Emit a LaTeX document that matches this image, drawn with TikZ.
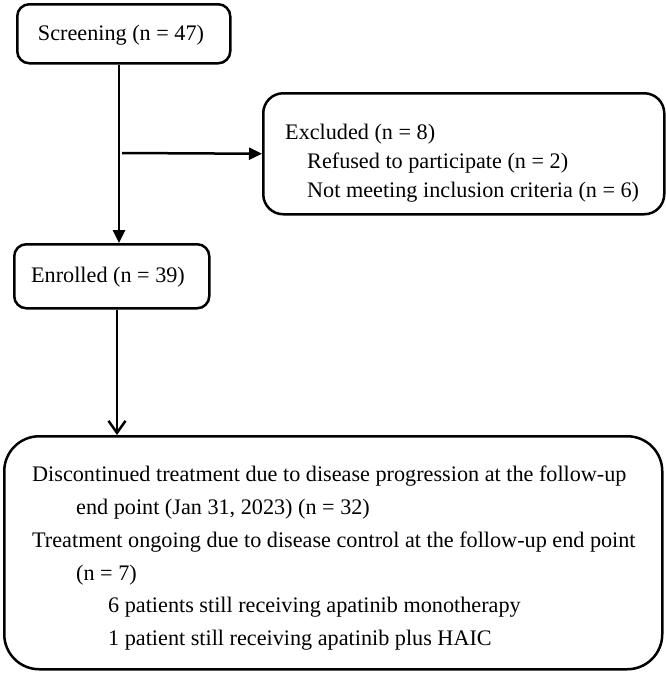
\documentclass[tikz,border=0pt]{standalone}
\usepackage{fontspec}
\setmainfont{Liberation Serif}
\usetikzlibrary{arrows.meta,calc}
\begin{document}
\begin{tikzpicture}[x=1pt,y=-1pt,
  font=\fontsize{22.2}{26}\selectfont,
  box/.style={draw, line width=2.5pt, rounded corners=#1, anchor=north west, inner sep=0pt},
  txt/.style={anchor=base west, inner sep=0pt},
  ctxt/.style={anchor=base, inner sep=0pt},
  link/.style={line width=2.5pt},
  solidtip/.style={-{Triangle[length=13pt,width=12pt]}},
  opentip/.style={-{Straight Barb[length=12pt,width=17pt]}}]
\useasboundingbox[fill=white] (0,0) rectangle (666,673);

% boxes
\node[box=12pt, minimum width=213pt, minimum height=59pt] (scr) at (16,3) {};
\node[box=20pt, minimum width=401pt, minimum height=121pt] (exc) at (262,92) {};
\node[box=12pt, minimum width=195pt, minimum height=64pt] (enr) at (13,243) {};
\node[box=35pt, minimum width=658pt, minimum height=233pt] (bot) at (3,435) {};

% texts
\node[ctxt] (scrt) at (121,40) {Screening (n = 47)};
\node[ctxt] (enrt) at (108,282) {Enrolled (n = 39)};

\node[txt] (exc1) at (285,139) {Excluded (n = 8)};
\node[txt] (exc2) at (307,168) {Refused to participate (n = 2)};
\node[txt] (exc3) at (307,197) {Not meeting inclusion criteria (n = 6)};

\node[txt] (b1) at (32,481) {Discontinued treatment due to disease progression at the follow-up};
\node[txt] (b2) at (76,514) {end point (Jan 31, 2023) (n = 32)};
\node[txt] (b3) at (32,547) {Treatment ongoing due to disease control at the follow-up end point};
\node[txt] (b4) at (76,580) {(n = 7)};
\node[txt] (b5) at (108,612) {6 patients still receiving apatinib monotherapy};
\node[txt] (b6) at (108,645) {1 patient still receiving apatinib plus HAIC};

% connectors
\coordinate (j) at (119,153);
\coordinate (js) at (122,153);
\coordinate (k) at (117,400);
\draw[link, solidtip] (j |- scr.south) -- (j |- enr.north);
\draw[link, solidtip] (js) -- (exc.west);
\draw[link, opentip] (k |- enr.south) -- (k |- bot.north);
\end{tikzpicture}
\end{document}
